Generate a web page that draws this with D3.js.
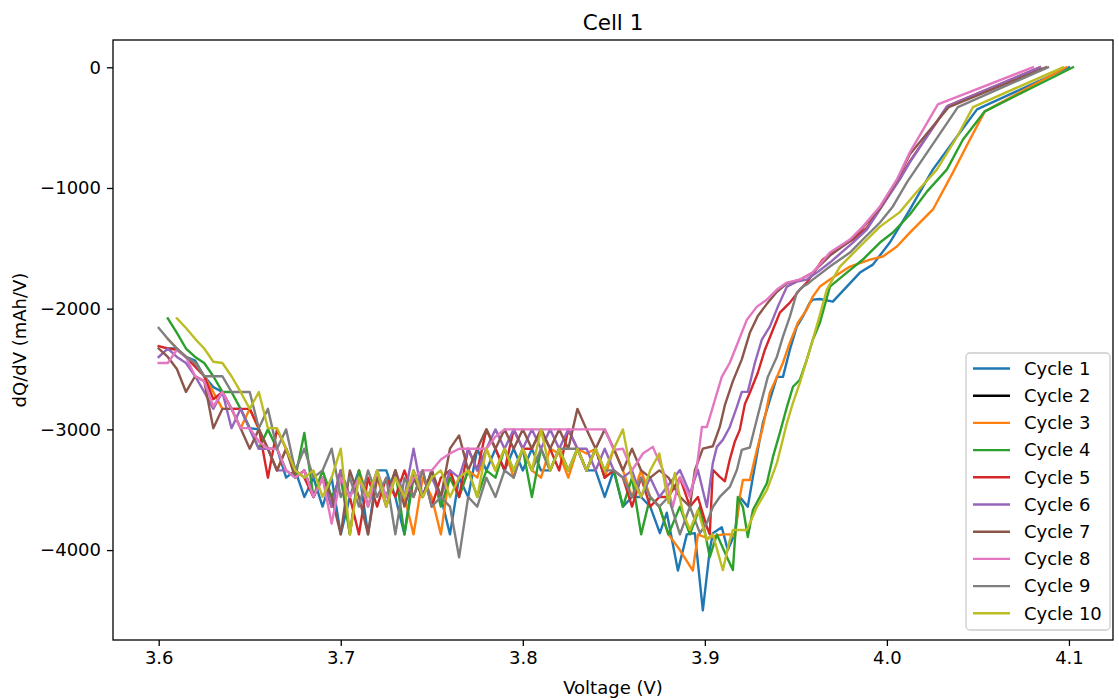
<!DOCTYPE html>
<html><head><meta charset="utf-8">
<script src="https://cdn.jsdelivr.net/npm/d3@7"></script>
<style>body{margin:0;background:#fff;} svg{display:block;font-family:"DejaVu Sans",sans-serif;}</style>
</head><body><svg id="chart" width="1119" height="700"></svg>
<script>
// ---------- DATA ----------
const chartTitle = "Cell 1";
const xLabel = "Voltage (V)";
const yLabel = "dQ/dV (mAh/V)";
const xTickValues = [3.6, 3.7, 3.8, 3.9, 4.0, 4.1];
const xTickLabels = ["3.6", "3.7", "3.8", "3.9", "4.0", "4.1"];
const yTickValues = [0, -1000, -2000, -3000, -4000];
const yTickLabels = ["0", "\u22121000", "\u22122000", "\u22123000", "\u22124000"];
const cycleNames = ["Cycle 1","Cycle 2","Cycle 3","Cycle 4","Cycle 5","Cycle 6","Cycle 7","Cycle 8","Cycle 9","Cycle 10"];
const cycleColors = ["#1f77b4","#000000","#ff7f0e","#2ca02c","#d62728","#9467bd","#8c564b","#e377c2","#7f7f7f","#bcbd22"];

// shared voltage grid of the noisy plateau region (V)
const voltageGrid = [3.600,3.605,3.610,3.615,3.620,3.625,3.630,3.635,3.640,3.645,
  3.650,3.655,3.660,3.665,3.670,3.675,3.680,3.685,3.690,3.695,
  3.700,3.705,3.710,3.715,3.720,3.725,3.730,3.735,3.740,3.745,
  3.750,3.755,3.760,3.765,3.770,3.775,3.780,3.785,3.790,3.795,
  3.800,3.805,3.810,3.815,3.820,3.825,3.830,3.835,3.840,3.845,
  3.850,3.855,3.860,3.865,3.870,3.875];

// dQ/dV on the grid (null = no point)
const cycle1Noise = [null,-2330,-2330,-2400,-2430,-2560,-2650,-2690,-2830,-2830,
  -2990,-3000,-3160,-3160,-3400,-3340,-3560,-3400,-3640,-3400,
  -3870,-3560,-3340,-3870,-3340,-3340,-3560,-3870,-3340,-3560,
  -3340,-3560,-3870,-3400,-3560,-3160,-3340,-3160,-3340,-3160,
  -3340,-3160,-3340,-3340,-3160,-3340,-3160,-3340,-3340,-3560,
  -3340,-3640,-3560,-3560,-3640,null];
const cycle2Noise = [];
const cycle3Noise = [null,-2250,-2330,-2400,-2450,-2560,-2690,-2830,-2830,-2990,
  -2830,-3000,-3160,-3340,-3160,-3400,-3340,-3560,-3400,-3640,
  -3340,-3870,-3340,-3560,-3400,-3640,-3340,-3560,-3870,-3400,
  -3560,-3870,-3340,-3560,-3340,-3400,-3160,-3340,-3160,-3400,
  -3160,-3340,-3400,-3160,-3200,-3400,-3160,-3200,-3160,-3400,
  -3160,-3340,-3560,-3340,-3560,-3640];
const cycle4Noise = [null,-2080,-2200,-2330,-2400,-2450,-2560,-2690,-2690,-2830,
  -2990,-3160,-3000,-3160,-3340,-3400,-3030,-3560,-3340,-3560,
  -3400,-3870,-3340,-3640,-3400,-3560,-3340,-3870,-3400,-3560,
  -3340,-3640,-3400,-3560,-3340,-3560,-3340,-3400,-3160,-3340,
  -3160,-3560,-3160,-3340,-3160,-3340,-3160,-3340,-3160,-3400,
  -3340,-3640,-3400,-3870,-3560,-3640];
const cycle5Noise = [-2310,-2330,-2340,-2400,-2480,-2560,-2750,-2690,-2830,-2830,
  -2830,-2990,-3400,-3000,-3160,-3340,-3400,-3560,-3400,-3640,
  -3340,-3560,-3870,-3400,-3640,-3400,-3560,-3340,-3560,-3340,
  -3640,-3400,-3340,-3560,-3160,-3340,-3000,-3160,-3340,-3000,
  -3160,-3160,-3000,-3160,-3340,-3000,-3160,-3340,-3160,-3400,
  -3340,-3400,-3640,-3400,-3640,-3560];
const cycle6Noise = [-2400,-2330,-2400,-2450,-2560,-2690,-2830,-2690,-2990,-2830,
  -3000,-3160,-3160,-3340,-3340,-3400,-3340,-3560,-3400,-3640,
  -3340,-3560,-3400,-3560,-3340,-3640,-3340,-3560,-3160,-3560,
  -3400,-3560,-3340,-3400,-3160,-3340,-3160,-3000,-3160,-3000,
  -3160,-3000,-3160,-3000,-3160,-3000,-3160,-3160,-3340,-3160,
  -3340,-3400,-3340,-3560,-3400,-3560];
const cycle7Noise = [-2330,-2400,-2500,-2690,-2560,-2600,-2990,-2830,-2830,-2990,
  -3160,-3000,-3160,-3340,-3160,-3400,-3340,-3560,-3400,-3560,
  -3870,-3340,-3560,-3870,-3400,-3560,-3340,-3640,-3400,-3560,
  -3340,-3560,-3160,-3050,-3340,-3160,-3000,-3160,-3000,-3160,
  -3000,-3160,-3000,-3160,-3000,-3160,-2830,-3000,-3160,-3000,
  -3160,-3340,-3160,-3340,-3400,-3340];
const cycle8Noise = [-2450,-2450,-2340,-2400,-2560,-2600,-2810,-2690,-2830,-2990,
  -2990,-3100,-3160,-3160,-3340,-3400,-3340,-3560,-3400,-3780,
  -3400,-3560,-3400,-3640,-3340,-3560,-3400,-3560,-3400,-3340,
  -3340,-3250,-3200,-3160,-3160,-3160,-3160,-3060,-3000,-3000,
  -3000,-3000,-3000,-3000,-3000,-3000,-3000,-3000,-3000,-3000,
  -3170,-3160,-3340,null,null,null];
const cycle9Noise = [-2160,-2250,-2330,-2400,-2450,-2560,-2560,-2560,-2690,-2690,
  -2690,-2990,-2830,-3160,-3000,-3340,-3160,-3400,-3340,-3160,
  -3560,-3400,-3640,-3340,-3560,-3400,-3870,-3400,-3560,-3340,
  -3640,-3560,-3640,-4060,-3560,-3640,-3400,-3560,-3340,-3400,
  -3160,-3340,-3160,-3340,-3160,-3160,-3160,-3340,-3160,-3340,
  -3340,-3400,-3560,-3400,-3560,-3640];
const cycle10Noise = [null,null,-2080,-2160,-2250,-2330,-2440,-2450,-2560,-2690,
  -2830,-2690,-2990,-2990,-3160,-3340,-3400,-3340,-3560,-3400,
  -3160,-3870,-3400,-3560,-3340,-3640,-3400,-3560,-3340,-3560,
  -3400,-3340,-3560,-3400,-3340,-3560,-3160,-3340,-3160,-3340,
  -3160,-3340,-3000,-3340,-3160,-3340,-3160,-3340,-3160,-3340,
  -3160,-3000,-3400,-3560,-3340,-3200];

// rising tail of each cycle (voltage, dQ/dV)
const cycle1TailV = [3.8753,3.8791,3.8852,3.8901,3.8945,3.8989,3.9027,3.9044,3.9093,3.9126,3.9165,3.9192,3.9236,3.9264,3.9291,3.9319,3.9357,3.9396,3.9429,3.9467,3.9505,3.9538,3.9577,3.9593,3.9632,3.9703,3.9780,3.9852,3.9923,4.0016,4.0126,4.0253,4.0385,4.0495,4.1000];
const cycle1TailQ = [-3860,-3690,-4170,-3870,-3860,-4500,-4000,-3860,-3810,-4000,-3860,-3560,-3640,-3394,-3170,-2946,-2755,-2565,-2565,-2340,-2149,-2066,-1950,-1925,-1920,-1942,-1817,-1701,-1635,-1452,-1180,-846,-573,-349,0];
const cycle2TailV = [];
const cycle2TailQ = [];
const cycle3TailV = [3.8800,3.8863,3.8934,3.8962,3.9011,3.9099,3.9137,3.9165,3.9192,3.9209,3.9247,3.9286,3.9319,3.9357,3.9396,3.9429,3.9467,3.9511,3.9560,3.9593,3.9632,3.9687,3.9797,3.9907,3.9978,4.0055,4.0126,4.0253,4.0363,4.0456,4.0538,4.0984];
const cycle3TailQ = [-3870,-4000,-4170,-3870,-3900,-3870,-3870,-3890,-3560,-3419,-3419,-3170,-2980,-2697,-2565,-2448,-2282,-2116,-2008,-1900,-1817,-1759,-1651,-1593,-1568,-1485,-1370,-1178,-871,-598,-365,0];
const cycle4TailV = [3.8800,3.8863,3.8918,3.8973,3.9027,3.9066,3.9121,3.9154,3.9181,3.9209,3.9236,3.9264,3.9302,3.9341,3.9374,3.9412,3.9451,3.9484,3.9522,3.9560,3.9593,3.9632,3.9687,3.9780,3.9868,3.9962,4.0033,4.0126,4.0220,4.0330,4.0418,4.0538,4.1022];
const cycle4TailQ = [-3870,-3640,-3870,-3640,-4058,-3870,-4058,-4166,-3560,-3643,-3892,-3668,-3560,-3444,-3228,-3029,-2813,-2647,-2589,-2423,-2257,-2116,-1817,-1701,-1593,-1452,-1369,-1220,-1030,-846,-598,-365,0];
const cycle5TailV = [3.8800,3.8863,3.8918,3.8962,3.9011,3.9027,3.9044,3.9082,3.9110,3.9137,3.9165,3.9192,3.9220,3.9247,3.9291,3.9330,3.9374,3.9412,3.9467,3.9522,3.9560,3.9648,3.9725,3.9813,3.9890,3.9962,4.0071,4.0126,4.0335,4.0841];
const cycle5TailQ = [-3560,-3400,-3640,-3560,-3809,-3870,-3336,-3394,-3430,-3250,-3100,-3004,-2790,-2697,-2531,-2340,-2174,-2033,-1950,-1842,-1784,-1593,-1510,-1427,-1330,-1170,-920,-780,-320,0];
const cycle6TailV = [3.8863,3.8918,3.8962,3.9011,3.9044,3.9066,3.9099,3.9137,3.9176,3.9203,3.9236,3.9275,3.9313,3.9357,3.9401,3.9451,3.9505,3.9560,3.9615,3.9687,3.9813,3.9890,3.9962,4.0071,4.0126,4.0330,4.0841];
const cycle6TailQ = [-3336,-3530,-3336,-3643,-3278,-3145,-3087,-2980,-2813,-2689,-2689,-2448,-2257,-2149,-1983,-1817,-1776,-1759,-1701,-1618,-1452,-1344,-1178,-929,-788,-323,0];
const cycle7TailV = [3.8800,3.8863,3.8918,3.8945,3.8989,3.9044,3.9082,3.9110,3.9154,3.9203,3.9247,3.9291,3.9341,3.9396,3.9451,3.9522,3.9593,3.9687,3.9797,3.9868,3.9962,4.0055,4.0126,4.0340,4.0874];
const cycle7TailQ = [-3400,-3560,-3640,-3340,-3160,-3140,-2980,-2800,-2600,-2420,-2200,-2060,-1960,-1860,-1790,-1760,-1700,-1560,-1440,-1330,-1170,-940,-720,-330,0];
const cycle8TailV = [3.8660,3.8714,3.8770,3.8824,3.8863,3.8918,3.8956,3.8984,3.9011,3.9044,3.9093,3.9137,3.9181,3.9231,3.9286,3.9341,3.9396,3.9451,3.9522,3.9593,3.9687,3.9797,3.9868,3.9962,4.0055,4.0126,4.0280,4.0802];
const cycle8TailQ = [-3200,-3145,-3336,-3643,-3394,-3560,-3311,-2980,-2980,-2813,-2565,-2448,-2282,-2091,-1983,-1925,-1842,-1784,-1759,-1701,-1535,-1427,-1320,-1153,-929,-705,-307,0];
const cycle9TailV = [3.8800,3.8863,3.8918,3.8973,3.9011,3.9044,3.9082,3.9137,3.9176,3.9203,3.9247,3.9275,3.9313,3.9346,3.9396,3.9429,3.9467,3.9505,3.9538,3.9560,3.9593,3.9687,3.9797,3.9868,3.9962,4.0033,4.0110,4.0390,4.0885];
const cycle9TailQ = [-3560,-3870,-3640,-3860,-3776,-3643,-3560,-3477,-3336,-3170,-3150,-2980,-2755,-2565,-2398,-2232,-2066,-1867,-1817,-1800,-1759,-1651,-1535,-1427,-1286,-1153,-954,-330,0];
const cycle10TailV = [3.8800,3.8835,3.8880,3.8918,3.8962,3.9011,3.9044,3.9099,3.9137,3.9154,3.9231,3.9286,3.9341,3.9396,3.9451,3.9484,3.9522,3.9560,3.9593,3.9632,3.9670,3.9742,3.9852,3.9962,4.0071,4.0160,4.0275,4.0380,4.0473,4.0967];
const cycle10TailQ = [-3610,-3361,-3693,-3834,-3668,-3917,-3870,-4166,-3917,-3834,-3834,-3643,-3502,-3278,-2946,-2780,-2614,-2423,-2257,-2050,-1842,-1651,-1485,-1320,-1200,-1040,-846,-590,-330,0];

const noiseList = [cycle1Noise,cycle2Noise,cycle3Noise,cycle4Noise,cycle5Noise,cycle6Noise,cycle7Noise,cycle8Noise,cycle9Noise,cycle10Noise];
const tailVList = [cycle1TailV,cycle2TailV,cycle3TailV,cycle4TailV,cycle5TailV,cycle6TailV,cycle7TailV,cycle8TailV,cycle9TailV,cycle10TailV];
const tailQList = [cycle1TailQ,cycle2TailQ,cycle3TailQ,cycle4TailQ,cycle5TailQ,cycle6TailQ,cycle7TailQ,cycle8TailQ,cycle9TailQ,cycle10TailQ];

// ---------- CHART ----------
const svg = d3.select("#chart");
const m = {left:113, right:1113, top:40, bottom:640};
const x = d3.scaleLinear().domain([3.5749, 4.1242]).range([m.left, m.right]);
const y = d3.scaleLinear().domain([-4745, 226]).range([m.bottom, m.top]);

svg.append("rect").attr("width",1119).attr("height",700).attr("fill","#fff");

svg.append("defs").append("clipPath").attr("id","clip")
  .append("rect").attr("x",m.left).attr("y",m.top).attr("width",m.right-m.left).attr("height",m.bottom-m.top);

const series = cycleNames.map((name,i) => {
  const pts = [];
  noiseList[i].forEach((q,j) => { if (q !== null && q !== undefined) pts.push([voltageGrid[j], q]); });
  tailVList[i].forEach((v,j) => pts.push([v, tailQList[i][j]]));
  return {name, color: cycleColors[i], pts};
});

const line = d3.line().x(d => x(d[0])).y(d => y(d[1]));
const plot = svg.append("g").attr("clip-path","url(#clip)");
series.forEach(s => {
  if (!s.pts.length) return;
  plot.append("path").datum(s.pts).attr("d", line)
    .attr("fill","none").attr("stroke", s.color).attr("stroke-width", 2.4)
    .attr("stroke-linejoin","round").attr("stroke-linecap","square");
});

// axes
const fs = 18;
const xAxis = d3.axisBottom(x).tickValues(xTickValues).tickFormat((d,i)=>xTickLabels[i]).tickSize(6).tickSizeOuter(0).tickPadding(5);
const yAxis = d3.axisLeft(y).tickValues(yTickValues).tickFormat((d,i)=>yTickLabels[i]).tickSize(6).tickSizeOuter(0).tickPadding(6);
const gx = svg.append("g").attr("transform",`translate(0,${m.bottom})`).call(xAxis);
const gy = svg.append("g").attr("transform",`translate(${m.left},0)`).call(yAxis);
[gx,gy].forEach(g => {
  g.select(".domain").remove();
  g.selectAll(".tick line").attr("stroke","#000").attr("stroke-width",1.3);
  g.selectAll(".tick text").attr("fill","#000").style("font-size",fs+"px").style("font-family","DejaVu Sans");
});

svg.append("rect").attr("x",m.left).attr("y",m.top).attr("width",m.right-m.left).attr("height",m.bottom-m.top)
  .attr("fill","none").attr("stroke","#000").attr("stroke-width",1.3);

svg.append("text").attr("x",(m.left+m.right)/2).attr("y",30).attr("text-anchor","middle")
  .style("font-size","21.5px").attr("fill","#000").text(chartTitle);
svg.append("text").attr("x",(m.left+m.right)/2).attr("y",694).attr("text-anchor","middle")
  .style("font-size",fs+"px").attr("fill","#000").text(xLabel);
svg.append("text").attr("transform",`translate(26,${(m.top+m.bottom)/2}) rotate(-90)`).attr("text-anchor","middle")
  .style("font-size",fs+"px").attr("fill","#000").text(yLabel);

// legend
const lg = svg.append("g");
lg.append("rect").attr("x",966).attr("y",353).attr("width",144).attr("height",277).attr("rx",4)
  .attr("fill","#fff").attr("fill-opacity",0.8).attr("stroke","#cccccc").attr("stroke-width",1.3);
series.forEach((s,i) => {
  const yy = 368.5 + i*27.2;
  lg.append("line").attr("x1",973).attr("x2",1010).attr("y1",yy).attr("y2",yy)
    .attr("stroke",s.color).attr("stroke-width",2.4);
  lg.append("text").attr("x",1024).attr("y",yy).attr("dy","0.35em")
    .style("font-size",fs+"px").attr("fill","#000").text(s.name);
});
</script>
</body></html>
